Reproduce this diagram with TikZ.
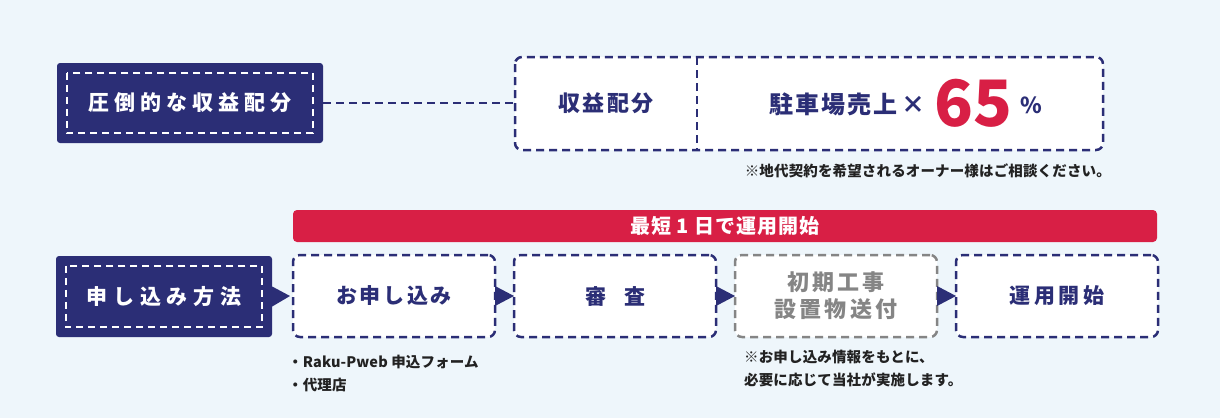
\documentclass[tikz,border=0pt]{standalone}
\usepackage{fontspec}
\setmainfont{Noto Sans CJK JP}
\usepackage{tikz}
\usetikzlibrary{positioning}
\usepackage{xcolor}
\definecolor{navy}{HTML}{2B2E76}
\definecolor{accent}{HTML}{D81F45}
\definecolor{stepgray}{HTML}{858585}
\definecolor{bgblue}{HTML}{EEF6FB}
\definecolor{notetext}{HTML}{222222}
\newcommand{\sz}[1]{\fontsize{#1}{#1}\selectfont}

\begin{document}
\begin{tikzpicture}[x=1pt,y=-1pt, node distance=19pt,
  headbox/.style={fill=navy,rounded corners=3pt,minimum width=266pt,minimum height=80pt,
    text=white,font=\bfseries\sz{21}\addfontfeature{LetterSpace=24}},
  innerdash/.style={draw=white,line width=2pt,dash pattern=on 7pt off 5pt},
  stepbox/.style={draw=navy,fill=white,line width=2.5pt,dash pattern=on 8pt off 5pt,outer sep=0pt,
    rounded corners=7pt,minimum width=202pt,minimum height=82pt,align=center,
    text=navy,font=\bfseries\sz{21}\addfontfeature{LetterSpace=15}},
  note/.style={text=notetext,font=\bfseries\sz{14.5}\addfontfeature{LetterSpace=1},align=left,inner sep=0pt}]
\useasboundingbox[fill=bgblue] (0,0) rectangle (1220,418);
% revenue row
\node[headbox] (hdrev) at (190,103) {圧倒的な収益配分};
\draw[innerdash] ([shift={(10pt,-10pt)}]hdrev.north west) rectangle ([shift={(-10pt,10pt)}]hdrev.south east);
\coordinate (revnw) at (515,57);
\coordinate (revse) at (1103,150);
\fill[white,rounded corners=7pt] (revnw) rectangle (revse);
\node[text=navy,font=\bfseries\sz{22}\addfontfeature{LetterSpace=12}] (rev) at (606,103.5) {収益配分};
\node[text=navy,font=\bfseries\sz{24}] (share) at (906,103)
  {{\addfontfeature{LetterSpace=8}駐車場売上}\,×\hspace{9pt}\raisebox{-13pt}{\sz{64}\color{accent}65}\hspace{9pt}{\sz{22}\%}};
\draw[navy,line width=2.5pt,dash pattern=on 8pt off 5pt,rounded corners=7pt] (revnw) rectangle (revse);
\draw[navy,line width=2.5pt,dash pattern=on 8pt off 5pt] (697,57) coordinate (split) -- (split |- revse);
\draw[navy,line width=2pt,dash pattern=on 8pt off 5pt] (hdrev.east) -- (revnw |- hdrev.east);
\node[note,anchor=north east] (revnote) at (1111,164) {※地代契約を希望されるオーナー様はご相談ください。};
% application row
\node[fill=accent,rounded corners=4pt,minimum width=864pt,minimum height=32pt,text=white,
  font=\bfseries\sz{20}\addfontfeature{LetterSpace=5}] (fast) at (725,226) {最短 1 日で運用開始};
\node[headbox,minimum width=216pt,minimum height=81pt,font=\bfseries\sz{21}\addfontfeature{LetterSpace=28}] (hdapp) at (164,296.5) {申し込み方法};
\draw[innerdash] ([shift={(10pt,-10pt)}]hdapp.north west) rectangle ([shift={(-10pt,10pt)}]hdapp.south east);
\node[stepbox,font=\bfseries\sz{21}\addfontfeature{LetterSpace=13}] (apply) at (394,296) {お申し込み};
\node[stepbox,right=of apply] (review) {審\hspace{18pt}査};
\node[stepbox,right=of review,draw=stepgray,text=stepgray,font=\bfseries\sz{22}\addfontfeature{LetterSpace=14}] (works) {初期工事\\[5pt]設置物送付};
\node[stepbox,right=of works,font=\bfseries\sz{21}\addfontfeature{LetterSpace=18}] (start) {運用開始};
\fill[navy] ([yshift=10pt]hdapp.east) -- ([yshift=-10pt]hdapp.east) -- ([xshift=-3pt]apply.west) -- cycle;
\foreach \a/\b in {apply/review,review/works,works/start}
  \fill[navy] ([yshift=10pt]\a.east) -- ([yshift=-10pt]\a.east) -- (\b.west) -- cycle;
\node[note,anchor=north west] (applynote) at (288,355) {・Raku-Pweb 申込フォーム\\[8pt]・代理店};
\node[note,anchor=north west] (worksnote) at (744,350) {※お申し込み情報をもとに、\\[8pt]必要に応じて当社が実施します。};
\end{tikzpicture}
\end{document}
